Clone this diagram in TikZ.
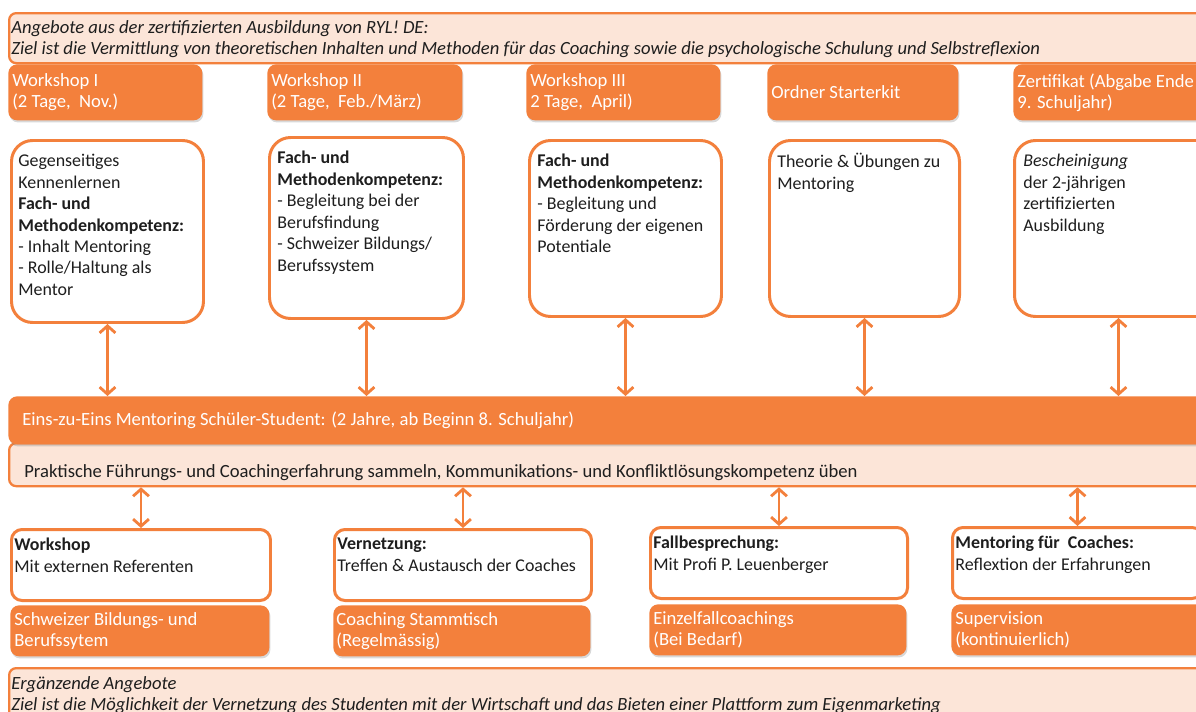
\documentclass[tikz,border=0pt]{standalone}
\usepackage{fontspec}
\setmainfont{Carlito}
\usetikzlibrary{arrows.meta,shadows}
\definecolor{orng}{RGB}{243,128,60}
\definecolor{peach}{RGB}{252,229,216}
\definecolor{ink}{RGB}{30,30,30}
\tikzset{
  size/.style 2 args={minimum width=#1*0.02cm, minimum height=#2*0.02cm},
  band/.style={draw=orng, fill=peach, line width=1.3pt, rounded corners=4pt, anchor=north west, inner sep=0pt},
  hdr/.style={fill=orng, rounded corners=5pt, anchor=north west, inner sep=0pt,
    drop shadow={opacity=.3, shadow xshift=.6pt, shadow yshift=-1.2pt}},
  wbox/.style={draw=orng, fill=white, line width=1.7pt, rounded corners=12pt, anchor=north west, inner sep=0pt},
  sbox/.style={wbox, rounded corners=6pt},
  txt/.style={anchor=north west, align=left, inner sep=0pt, text=ink, font=\fontsize{10.2}{12.2}\selectfont},
  wtxt/.style={txt, anchor=west, text=white, font=\fontsize{10.6}{12}\selectfont},
  itxt/.style={txt, font=\fontsize{10.6}{12}\selectfont\itshape},
  link/.style={draw=orng, line width=1.6pt, >={Straight Barb[length=4pt,width=9pt]}, <->},
}
\begin{document}
\begin{tikzpicture}[x=0.02cm,y=-0.02cm]
\useasboundingbox (0,0) rectangle (1196,711);
\clip (0,0) rectangle (1196,711);
\fill[white] (0,0) rectangle (1196,711);

% top banner
\node[band, size={1210}{50}] (top) at (8,12) {};
\node[itxt, anchor=west] (toptxt) at ([shift={(3,1)}]top.west) {Angebote aus der zertifizierten Ausbildung von RYL! DE:\\
  Ziel ist die Vermittlung von theoretischen Inhalten und Methoden für das Coaching sowie die psychologische Schulung und Selbstreflexion};

% headers
\node[hdr, size={194}{56}] (h1) at (8,64) {};
\node[hdr, size={195}{56}] (h2) at (267,64) {};
\node[hdr, size={194}{56}] (h3) at (526,64) {};
\node[hdr, size={191}{56}] (h4) at (767,64) {};
\node[hdr, size={210}{56}] (h5) at (1013,64) {};
\node[wtxt] (h1t) at ([shift={(4,0)}]h1.west) {Workshop I\\(2 Tage,\ \ Nov.)};
\node[wtxt] (h2t) at ([shift={(4,0)}]h2.west) {Workshop II\\(2 Tage,\ \ Feb./März)};
\node[wtxt] (h3t) at ([shift={(4,0)}]h3.west) {Workshop III\\2 Tage,\ \ April)};
\node[wtxt] (h4t) at ([shift={(4,0)}]h4.west) {Ordner Starterkit};
\node[wtxt] (h5t) at ([shift={(4,0)}]h5.west) {Zertifikat (Abgabe Ende\\9. Schuljahr)};

% workshop contents
\node[wbox, size={192}{182}] (w1) at (10,139) {};
\node[wbox, size={194}{181}] (w2) at (268,136) {};
\node[wbox, size={192}{176}] (w3) at (528,139) {};
\node[wbox, size={190}{176}] (w4) at (768,139) {};
\node[wbox, size={208}{176}] (w5) at (1013,139) {};
\node[txt] (w1t) at ([shift={(8,15)}]w1.north west) {Gegenseitiges\\Kennenlernen\\\textbf{Fach- und}\\\textbf{Methodenkompetenz:}\\- Inhalt Mentoring\\- Rolle/Haltung als\\Mentor};
\node[txt] (w2t) at ([shift={(9,15)}]w2.north west) {\textbf{Fach- und}\\\textbf{Methodenkompetenz:}\\- Begleitung bei der\\Berufsfindung\\- Schweizer Bildungs/\\Berufssystem};
\node[txt] (w3t) at ([shift={(9,15)}]w3.north west) {\textbf{Fach- und}\\\textbf{Methodenkompetenz:}\\- Begleitung und\\Förderung der eigenen\\Potentiale};
\node[txt] (w4t) at ([shift={(9,14)}]w4.north west) {Theorie \& Übungen zu\\Mentoring};
\node[txt] (w5t) at ([shift={(10,15)}]w5.north west) {\textit{Bescheinigung}\\der 2-jährigen\\zertifizierten\\Ausbildung};

% mentoring band
\node[band, size={1210}{43}] (prax) at (8,442) {};
\node[hdr, size={1210}{48}, drop shadow={opacity=0}] (eins) at (8,396) {};
\node[wtxt] (einst) at ([shift={(14,0)}]eins.west) {Eins-zu-Eins Mentoring Schüler-Student: (2 Jahre, ab Beginn 8. Schuljahr)};
\node[txt, font=\fontsize{10.6}{12}\selectfont] (praxt) at ([shift={(16,22)}]prax.north west) {Praktische Führungs- und Coachingerfahrung sammeln, Kommunikations- und Konfliktlösungskompetenz üben};

\foreach \w in {w1,w2,w3,w4,w5}
  \draw[link] (\w.south) -- (\w.south |- eins.north);

% additional offers
\node[sbox, size={259}{71}] (b1) at (10,528) {};
\node[sbox, size={257}{71}] (b2) at (333,528) {};
\node[sbox, size={257}{71}] (b3) at (649,526) {};
\node[sbox, size={250}{71}] (b4) at (951,526) {};
\node[txt] (b1t) at ([shift={(4,10)}]b1.north west) {\textbf{Workshop}\\Mit externen Referenten};
\node[txt] (b2t) at ([shift={(4,10)}]b2.north west) {\textbf{Vernetzung:}\\Treffen \& Austausch der Coaches};
\node[txt] (b3t) at ([shift={(4,10)}]b3.north west) {\textbf{Fallbesprechung:}\\Mit Profi P. Leuenberger};
\node[txt] (b4t) at ([shift={(4,10)}]b4.north west) {\textbf{Mentoring für\ \ Coaches:}\\Reflextion der Erfahrungen};

\foreach \b in {b1,b2,b3,b4}
  \draw[link] (\b.north) -- (\b.north |- prax.south);

\node[hdr, size={259}{51}] (o1) at (10,605) {};
\node[hdr, size={257}{51}] (o2) at (333,605) {};
\node[hdr, size={257}{51}] (o3) at (649,604) {};
\node[hdr, size={255}{51}] (o4) at (951,604) {};
\node[wtxt] (o1t) at ([shift={(4,0)}]o1.west) {Schweizer Bildungs- und\\Berufssytem};
\node[wtxt] (o2t) at ([shift={(3,0)}]o2.west) {Coaching Stammtisch\\(Regelmässig)};
\node[wtxt] (o3t) at ([shift={(4,0)}]o3.west) {Einzelfallcoachings\\(Bei Bedarf)};
\node[wtxt] (o4t) at ([shift={(4,0)}]o4.west) {Supervision\\(kontinuierlich)};

% bottom banner
\node[band, size={1210}{60}] (bot) at (8,667) {};
\node[itxt] (bott) at ([shift={(3,9)}]bot.north west) {Ergänzende Angebote\\
  Ziel ist die Möglichkeit der Vernetzung des Studenten mit der Wirtschaft und das Bieten einer Plattform zum Eigenmarketing};
\end{tikzpicture}
\end{document}
